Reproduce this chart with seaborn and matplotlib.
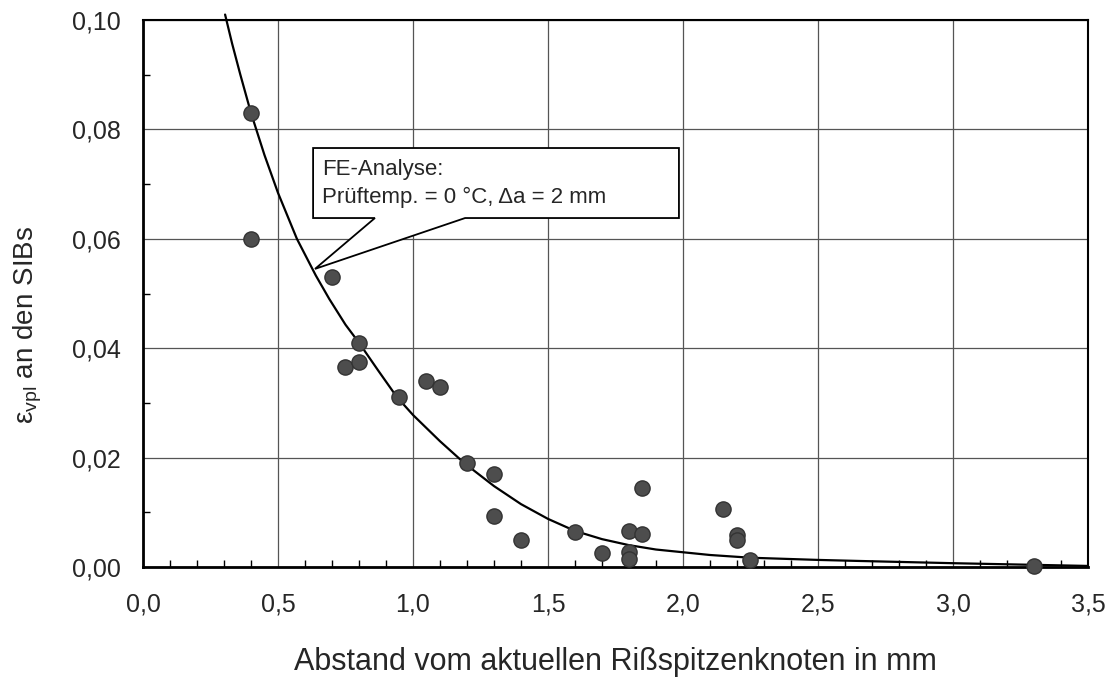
import numpy as np
import pandas as pd
import matplotlib
matplotlib.use("Agg")
import matplotlib.pyplot as plt
import seaborn as sns
from matplotlib.ticker import MultipleLocator, FuncFormatter
from matplotlib.patches import Polygon

# Messpunkte
abstand = [0.40, 0.40, 0.70, 0.75, 0.80, 0.80, 0.95, 1.05, 1.10, 1.20, 1.30, 1.30,
           1.40, 1.60, 1.70, 1.80, 1.80, 1.80, 1.85, 1.85, 2.15, 2.20, 2.20, 2.25, 3.30]
eps_vpl = [0.083, 0.060, 0.053, 0.0366, 0.041, 0.0375, 0.031, 0.034, 0.033, 0.019, 0.017, 0.0093,
           0.005, 0.0064, 0.0026, 0.0066, 0.0027, 0.0015, 0.0145, 0.006, 0.0106, 0.0058, 0.005, 0.0013, 0.0002]

# FE-Analyse curve
fe_x = [0.304, 0.33, 0.36, 0.40, 0.45, 0.50, 0.57, 0.64, 0.69, 0.75, 0.80, 0.87, 0.94, 1.00,
        1.10, 1.19, 1.30, 1.40, 1.50, 1.60, 1.70, 1.80, 1.90, 2.00, 2.10, 2.25, 2.50, 2.66, 3.00,
        3.30, 3.50]
fe_y = [0.101, 0.0957, 0.0901, 0.083, 0.0753, 0.0684, 0.060, 0.0533, 0.049, 0.0443, 0.041,
        0.036, 0.0311, 0.0278, 0.0230, 0.019, 0.0148, 0.0115, 0.0088, 0.0066, 0.0051, 0.0040,
        0.0032, 0.0027, 0.0022, 0.0017, 0.0013, 0.0011, 0.0007, 0.0004, 0.0002]

pts = pd.DataFrame({"x": abstand, "y": eps_vpl})
fe = pd.DataFrame({"x": fe_x, "y": fe_y})

sns.set_style("white")
plt.rcParams['font.family'] = ['Liberation Sans', 'DejaVu Sans']
plt.rcParams['mathtext.fontset'] = 'custom'
plt.rcParams['mathtext.rm'] = 'Liberation Sans'
plt.rcParams['mathtext.it'] = 'Liberation Sans:italic'

fig = plt.figure(figsize=(11.12, 6.83), dpi=100)
ax = fig.add_axes([0.1286, 0.1698, 0.8498, 0.8009])

sns.lineplot(data=fe, x="x", y="y", ax=ax, color="black", linewidth=1.6, sort=False,
             clip_on=False, zorder=3, solid_joinstyle="round")
sns.scatterplot(data=pts, x="x", y="y", ax=ax, s=120, color="#4d4d4d",
                edgecolor="#333333", linewidth=1, zorder=4, clip_on=False)

ax.set_xlim(0, 3.5)
ax.set_ylim(0, 0.10)
ax.xaxis.set_major_locator(MultipleLocator(0.5))
ax.xaxis.set_minor_locator(MultipleLocator(0.1))
ax.yaxis.set_major_locator(MultipleLocator(0.02))
ax.yaxis.set_minor_locator(MultipleLocator(0.01))
ax.xaxis.set_major_formatter(FuncFormatter(lambda v, p: f"{v:.1f}".replace(".", ",")))
ax.yaxis.set_major_formatter(FuncFormatter(lambda v, p: f"{v:.2f}".replace(".", ",")))
ax.tick_params(which="major", direction="out", length=6, width=1, labelsize=18, color="black")
ax.tick_params(axis="x", which="major", pad=12)
ax.tick_params(axis="y", which="major", pad=10)
ax.tick_params(which="minor", direction="in", length=5, width=1, color="black")
ax.tick_params(axis="x", which="minor", bottom=True)
ax.tick_params(axis="y", which="minor", left=True)
ax.grid(True, which="major", color="#555555", linewidth=0.9)
ax.set_axisbelow(True)
for side in ["left", "bottom"]:
    ax.spines[side].set_linewidth(2)
for side in ["top", "right"]:
    ax.spines[side].set_linewidth(1.5)
for s in ax.spines.values():
    s.set_color("black")

ax.set_xlabel("Abstand vom aktuellen Rißspitzenknoten in mm", fontsize=22, labelpad=22)
ax.set_ylabel("ε$_{\\rm vpl}$ an den SIBs", fontsize=20)
ax.yaxis.set_label_coords(-0.105, 0.442)

# callout
callout = Polygon([(0.63, 0.0766), (1.985, 0.0766), (1.985, 0.0638), (1.193, 0.0638),
                   (0.637, 0.0545), (0.859, 0.0638), (0.63, 0.0638)],
                  closed=True, facecolor="white", edgecolor="black", linewidth=1.3, zorder=5)
ax.add_patch(callout)
ax.text(0.663, 0.0726, "FE-Analyse:", fontsize=16, va="center", ha="left", zorder=6)
ax.text(0.663, 0.0676, "Prüftemp. = 0 °C, Δa = 2 mm", fontsize=16, va="center", ha="left", zorder=6)

fig.savefig("out.png", dpi=100)
